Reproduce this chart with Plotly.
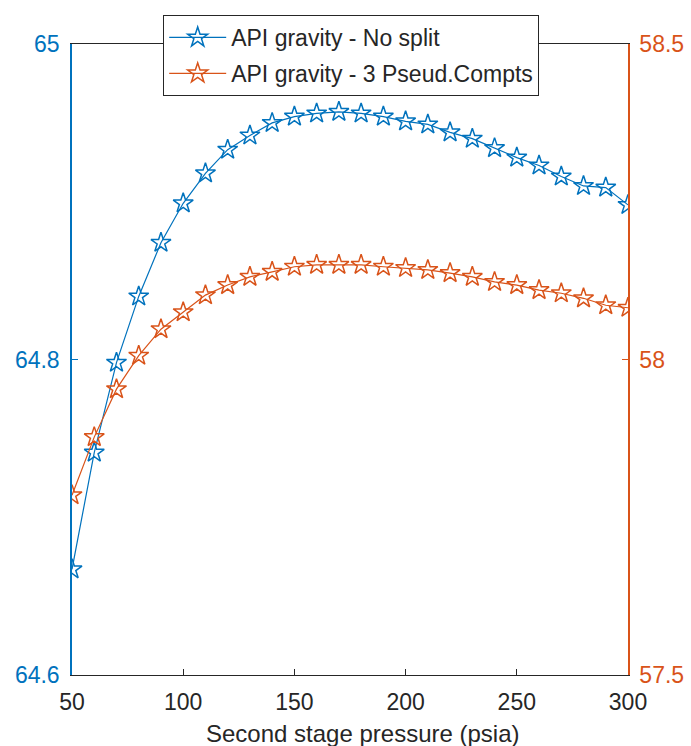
import plotly.graph_objects as go

pressure = [50, 60, 70, 80, 90, 100, 110, 120, 130, 140, 150, 160, 170,
            180, 190, 200, 210, 220, 230, 240, 250, 260, 270, 280, 290, 300]
api_no_split = [64.667, 64.741, 64.798, 64.840, 64.874, 64.899, 64.918, 64.933,
                64.942, 64.950, 64.954, 64.956, 64.957, 64.956, 64.954, 64.951,
                64.949, 64.944, 64.940, 64.934, 64.928, 64.923, 64.916, 64.910,
                64.909, 64.898]
api_3_pseudo = [57.785, 57.877, 57.953, 58.006, 58.048, 58.075, 58.102, 58.118,
                58.131, 58.139, 58.147, 58.150, 58.150, 58.150, 58.147, 58.145,
                58.142, 58.137, 58.131, 58.123, 58.118, 58.110, 58.105, 58.097,
                58.086, 58.082]
x_ticks = [50, 100, 150, 200, 250, 300]
left_ticks = [64.6, 64.8, 65]
left_ticklabels = ["64.6", "64.8", "65"]
right_ticks = [57.5, 58, 58.5]
right_ticklabels = ["57.5", "58", "58.5"]
x_title = "Second stage pressure (psia)"

BLUE = "#0072BD"
ORANGE = "#D95319"
DARK = "#262626"
FONT = "Liberation Sans, Arial, sans-serif"

fig = go.Figure()
fig.add_trace(go.Scatter(
    x=pressure, y=api_no_split, name="API gravity - No split",
    mode="lines+markers", yaxis="y", legendgroup="a",
    line=dict(color=BLUE, width=1.2),
    marker=dict(symbol="star-open", size=15, color=BLUE, line=dict(width=1.5, color=BLUE)),
))
fig.add_trace(go.Scatter(
    x=pressure, y=api_3_pseudo, name="API gravity - 3 Pseud.Compts",
    mode="lines+markers", yaxis="y2", legendgroup="b",
    line=dict(color=ORANGE, width=1.2),
    marker=dict(symbol="star-open", size=15, color=ORANGE, line=dict(width=1.5, color=ORANGE)),
))

fig.add_annotation(
    text=x_title, xref="paper", yref="paper", x=0.523, y=-0.092,
    xanchor="center", yanchor="middle", showarrow=False,
    font=dict(family=FONT, size=24, color=DARK),
)

fig.update_layout(
    width=691, height=746,
    margin=dict(l=72, r=63, t=44, b=71, autoexpand=False),
    paper_bgcolor="white", plot_bgcolor="white",
    font=dict(family=FONT, size=23, color=DARK),
    showlegend=True,
    legend=dict(
        x=0.164, y=1.046, xanchor="left", yanchor="top",
        bgcolor="white", bordercolor=DARK, borderwidth=1,
        font=dict(family=FONT, size=23, color=DARK),
        tracegroupgap=3, itemwidth=57,
    ),
    xaxis=dict(
        range=[50, 300], tickvals=x_ticks, ticktext=[str(v) for v in x_ticks],
        showgrid=False, zeroline=False, automargin=False,
        showline=True, linecolor=DARK, linewidth=1, mirror=True,
        ticks="inside", ticklen=6, tickcolor=DARK,
        tickfont=dict(family=FONT, size=23, color=DARK),
        ticklabelstandoff=6,
    ),
    yaxis=dict(
        range=[64.6, 65], tickvals=left_ticks, ticktext=left_ticklabels,
        showgrid=False, zeroline=False, automargin=False,
        showline=True, linecolor=BLUE, linewidth=1.5,
        ticks="inside", ticklen=6, tickcolor=BLUE,
        tickfont=dict(family=FONT, size=23, color=BLUE),
        ticklabelstandoff=6,
    ),
    yaxis2=dict(
        range=[57.5, 58.5], tickvals=right_ticks, ticktext=right_ticklabels,
        overlaying="y", side="right", anchor="x",
        showgrid=False, zeroline=False, automargin=False,
        showline=True, linecolor=ORANGE, linewidth=1.5,
        ticks="inside", ticklen=6, tickcolor=ORANGE,
        tickfont=dict(family=FONT, size=23, color=ORANGE),
        ticklabelstandoff=5,
    ),
)

fig.write_html("out.html", config={"displayModeBar": False},
               post_script="document.body.style.margin='0';")
